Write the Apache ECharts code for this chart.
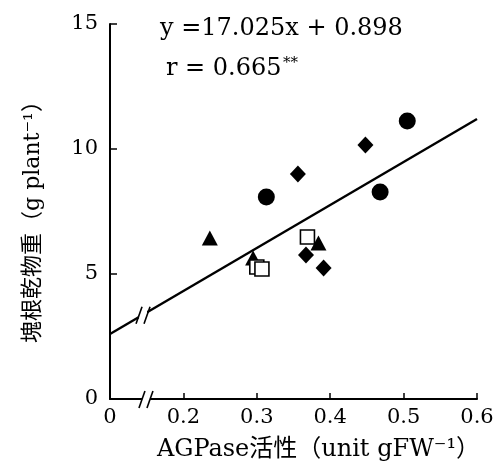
<!DOCTYPE html>
<html><head><meta charset="utf-8">
<script src="https://cdn.jsdelivr.net/npm/echarts@6/dist/echarts.min.js"></script>
<style>html,body{margin:0;padding:0;background:#fff}#c{width:499px;height:470px}</style>
</head><body><div id="c"></div>
<script>
// ---- data (x: AGPase activity, y: tuber dry weight) ----
const circles  = [[0.313, 8.08], [0.468, 8.28], [0.505, 11.12]];
const diamonds = [[0.356, 9.00], [0.448, 10.16], [0.367, 5.76], [0.391, 5.24]];
const squares  = [[0.369, 6.48], [0.300, 5.28], [0.307, 5.20]];
const triangles= [[0.236, 6.44], [0.384, 6.24], [0.295, 5.64]];
const regLine  = [[0.1, 2.6], [0.6, 11.2]];
const xTicks = [0.1, 0.2, 0.3, 0.4, 0.5, 0.6];   // 0.1 is shown as "0" (broken axis)
const yTicks = [0, 5, 10, 15];
const eqText = 'y =17.025x + 0.898';
const rText  = 'r = 0.665';
const xName = 'AGPase活性（unit gFW⁻¹）';
const yName = '塊根乾物重（g plant⁻¹）';
const xBreak = 0.149, lineBreak = 0.145;

const FF = '"DejaVu Serif","Noto Sans CJK JP",serif';
const chart = echarts.init(document.getElementById('c'), null, {renderer:'canvas'});
const option = {
  animation: false,
  backgroundColor: '#fff',
  grid: {left: 110, top: 24, right: 22, bottom: 71},
  xAxis: {
    type: 'value', min: xTicks[0], max: xTicks[xTicks.length-1], interval: 0.1,
    axisLine: {lineStyle: {color: '#000', width: 2}},
    axisTick: {inside: true, length: 6, lineStyle: {color: '#000', width: 1.5}},
    splitLine: {show: false},
    axisLabel: {color: '#000', fontFamily: FF, fontSize: 21, margin: 8,
      formatter: v => Math.abs(v - 0.1) < 1e-9 ? '0' : v.toFixed(1)},
    name: xName, nameLocation: 'middle', nameGap: 39,
    nameTextStyle: {color: '#000', fontFamily: FF, fontSize: 24, padding: [0,0,0,50]}
  },
  yAxis: {
    type: 'value', min: yTicks[0], max: yTicks[yTicks.length-1], interval: 5,
    axisLine: {lineStyle: {color: '#000', width: 2}},
    axisTick: {inside: true, length: 7, lineStyle: {color: '#000', width: 1.5}},
    splitLine: {show: false},
    axisLabel: {color: '#000', fontFamily: FF, fontSize: 21, margin: 12},
    name: yName, nameLocation: 'middle', nameGap: 66,
    nameTextStyle: {color: '#000', fontFamily: FF, fontSize: 22, padding: [0,10,0,0]}
  },
  series: [
    {type: 'line', data: regLine, symbol: 'none', lineStyle: {color: '#000', width: 2.4}, z: 2},
    {type: 'scatter', data: triangles, symbol: 'triangle', symbolSize: [16, 15],
      itemStyle: {color: '#000', opacity: 1}, z: 3},
    {type: 'scatter', data: squares, symbol: 'rect', symbolSize: 14,
      itemStyle: {color: '#fff', borderColor: '#000', borderWidth: 1.6, opacity: 1}, z: 4},
    {type: 'scatter', data: diamonds, symbol: 'diamond', symbolSize: [16, 17],
      itemStyle: {color: '#000', opacity: 1}, z: 5},
    {type: 'scatter', data: circles, symbol: 'circle', symbolSize: 17,
      itemStyle: {color: '#000', opacity: 1}, z: 6}
  ]
};
chart.setOption(option);

function px(p){ return chart.convertToPixel({gridIndex: 0}, p); }
const lb = regLine[0][1] + (regLine[1][1]-regLine[0][1])*(lineBreak-regLine[0][0])/(regLine[1][0]-regLine[0][0]);
const pL = px([lineBreak, lb]);
const pX = px([xBreak, 0]);
function breakMarks(c){
  return [
    {type:'rect', shape:{x:c[0]-4, y:c[1]-4, width:8, height:8}, style:{fill:'#fff'}, z: 50},
    {type:'line', shape:{x1:c[0]-7, y1:c[1]+9, x2:c[0]-1, y2:c[1]-8}, style:{stroke:'#000', lineWidth:1.6}, z: 51},
    {type:'line', shape:{x1:c[0]+1, y1:c[1]+9, x2:c[0]+7, y2:c[1]-8}, style:{stroke:'#000', lineWidth:1.6}, z: 51}
  ];
}
chart.setOption({graphic: [
  ...breakMarks(pL), ...breakMarks(pX),
  {type:'text', left: 160, top: 17, z: 60, style:{text: eqText, font: '24px ' + FF, fill:'#000'}},
  {type:'text', left: 166, top: 57, z: 60, style:{text: rText, font: '24px ' + FF, fill:'#000'}},
  {type:'text', left: 283, top: 56, z: 60, style:{text: '**', font: '15px ' + FF, fill:'#000'}}
]});
</script></body></html>
